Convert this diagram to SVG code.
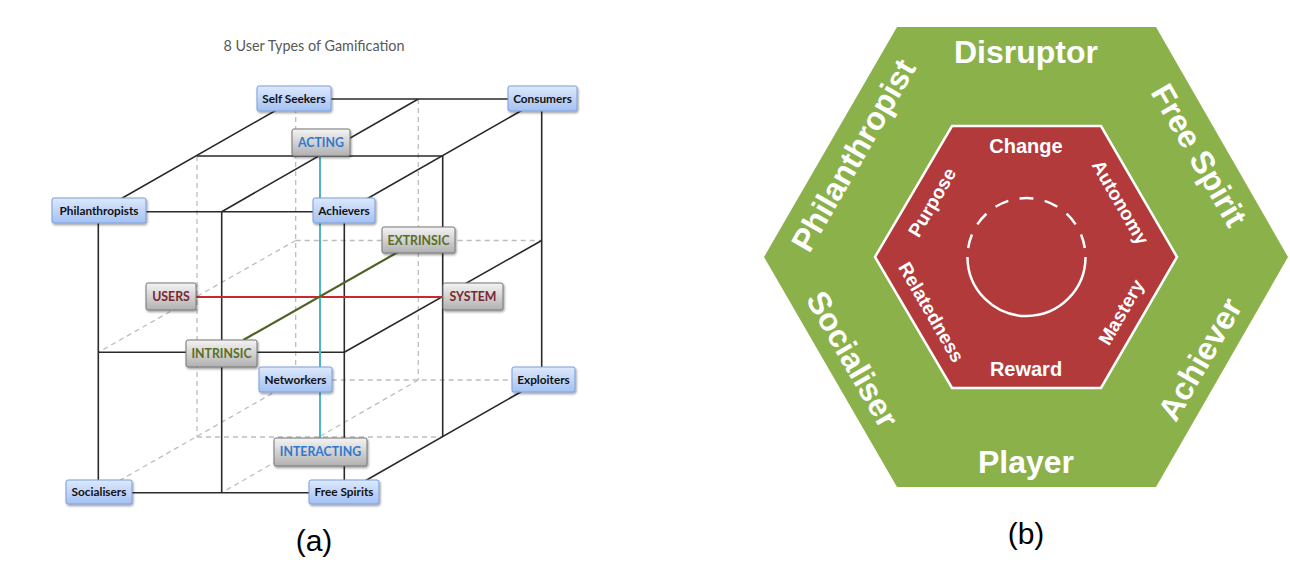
<svg xmlns="http://www.w3.org/2000/svg" width="1290" height="569" viewBox="0 0 1290 569">
<defs>
<linearGradient id="gBlue" x1="0" y1="0" x2="0" y2="1">
<stop offset="0" stop-color="#DDE9FD"/><stop offset="1" stop-color="#A4C1F3"/>
</linearGradient>
<linearGradient id="gGray" x1="0" y1="0" x2="0" y2="1">
<stop offset="0" stop-color="#F4F4F4"/><stop offset="1" stop-color="#B0B0B0"/>
</linearGradient>
<filter id="sh" x="-10%" y="-20%" width="130%" height="160%">
<feDropShadow dx="1" dy="1.5" stdDeviation="0.9" flood-color="#000" flood-opacity="0.4"/>
</filter>
<style>
.ln{stroke:#2a2a2a;stroke-width:1.6;fill:none}
.dash{stroke:#bdbdbd;stroke-width:1.3;fill:none;stroke-dasharray:5 4}
.bn{fill:url(#gBlue);stroke:#7C9FD9;stroke-width:1;filter:url(#sh)}
.gn{fill:url(#gGray);stroke:#777;stroke-width:1;filter:url(#sh)}
.bt{font-family:Lato,"Liberation Sans",sans-serif;font-weight:bold;font-size:11.8px;fill:#111;text-anchor:middle}
.gt{font-family:Lato,"Liberation Sans",sans-serif;font-weight:bold;font-size:12.3px;text-anchor:middle}
.hx{font-family:"Liberation Sans",Arial,sans-serif;font-weight:bold;fill:#fff;text-anchor:middle}
.outer{font-size:32px}
.inner{font-size:19px}
.cap{font-family:"Liberation Sans",Arial,sans-serif;font-size:30px;fill:#000;text-anchor:middle}
</style>
</defs>
<rect width="1290" height="569" fill="#fff"/>

<text x="314" y="50.7" style="font-family:Lato,'Liberation Sans',sans-serif;font-size:14.4px;fill:#595959" text-anchor="middle">8 User Types of Gamification</text>

<g id="connectors">
<!-- hidden (dashed) edges -->
<path class="dash" d="M295.7,99 V380 M418.3,99 V380 M295.7,240.5 H541.7 M295.7,380 H541.7"/>
<path class="dash" d="M197,156 V437 M197,437 H442.7"/>
<path class="dash" d="M295.7,240.5 L98.3,352.3 M295.7,380 L98.3,492.7 M418.3,380 L221.7,492.7"/>
<!-- visible edges -->
<path class="ln" d="M295.7,99 H541.7 M541.7,99 V380"/>
<path class="ln" d="M197,156 H442.7 M442.7,156 V437"/>
<path class="ln" d="M98.3,211.7 H344.3 M98.3,211.7 V492.7 M221.7,211.7 V492.7 M344.3,211.7 V492.7 M98.3,492.7 H344.3 M98.3,352.3 H344.3"/>
<path class="ln" d="M295.7,99 L98.3,211.7 M418.3,99 L221.7,211.7 M541.7,99 L344.3,211.7 M541.7,240.5 L344.3,352.3 M541.7,380 L344.3,492.7"/>
<!-- axes -->
<path d="M196,297 H443" stroke="#C8282E" stroke-width="2" fill="none"/>
<path d="M320,156 V438" stroke="#4DB6C6" stroke-width="2" fill="none"/>
<path d="M243.3,340 L418.3,240.5" stroke="#4E6328" stroke-width="2.2" fill="none"/>
</g>

<g id="nodes">
<g id="self-seekers"><rect class="bn" x="257" y="86" width="74" height="25" rx="2"/><text class="bt" x="294" y="102.5">Self Seekers</text></g>
<g id="consumers"><rect class="bn" x="508" y="86" width="69" height="25" rx="2"/><text class="bt" x="542.5" y="102.5">Consumers</text></g>
<g id="philanthropists"><rect class="bn" x="52" y="198" width="94" height="25" rx="2"/><text class="bt" x="99" y="214.5">Philanthropists</text></g>
<g id="achievers"><rect class="bn" x="313" y="198" width="62" height="25" rx="2"/><text class="bt" x="344" y="214.5">Achievers</text></g>
<g id="networkers"><rect class="bn" x="259" y="367" width="73" height="25" rx="2"/><text class="bt" x="295.5" y="383.5">Networkers</text></g>
<g id="exploiters"><rect class="bn" x="512" y="367" width="63" height="25" rx="2"/><text class="bt" x="543.5" y="383.5">Exploiters</text></g>
<g id="socialisers"><rect class="bn" x="66" y="480" width="66" height="24" rx="2"/><text class="bt" x="99" y="496.2">Socialisers</text></g>
<g id="free-spirits"><rect class="bn" x="309" y="480" width="70" height="24" rx="2"/><text class="bt" x="344" y="496.2">Free Spirits</text></g>

<g id="acting"><rect class="gn" x="292" y="129" width="58" height="27" rx="2"/><text class="gt" x="321" y="147" fill="#2F78CC">ACTING</text></g>
<g id="extrinsic"><rect class="gn" x="382" y="227" width="73" height="26" rx="2"/><text class="gt" x="418.5" y="244.5" fill="#5A6E26">EXTRINSIC</text></g>
<g id="users"><rect class="gn" x="146" y="283" width="50" height="27" rx="2"/><text class="gt" x="171" y="301" fill="#7A2733">USERS</text></g>
<g id="system"><rect class="gn" x="443" y="283" width="60" height="27" rx="2"/><text class="gt" x="473" y="301" fill="#7A2733">SYSTEM</text></g>
<g id="intrinsic"><rect class="gn" x="186" y="340" width="71" height="27" rx="2"/><text class="gt" x="221.5" y="358" fill="#5A6E26">INTRINSIC</text></g>
<g id="interacting"><rect class="gn" x="274" y="438" width="93" height="28" rx="2"/><text class="gt" x="320.5" y="456.3" fill="#2F78CC">INTERACTING</text></g>
</g>

<text class="cap" x="314" y="551">(a)</text>

<g id="hexagon">
<polygon points="897,27 1156,27 1288,257 1156,487 897,487 764,257" fill="#8BB14B"/>
<polygon points="952,126 1101,126 1177,257 1101,388 952,388 875,257" fill="#B23A3B" stroke="#fff" stroke-width="2.5"/>
<path d="M967.5,257 A59,59 0 0 1 1085.5,257" fill="none" stroke="#fff" stroke-width="2.5" stroke-dasharray="14 11.5" stroke-dashoffset="16.5"/>
<path d="M967.5,257 A59,59 0 0 0 1085.5,257" fill="none" stroke="#fff" stroke-width="2.5"/>

<text class="hx outer" x="1026" y="63">Disruptor</text>
<text class="hx outer" x="1026" y="473">Player</text>
<text class="hx outer" transform="translate(853,155) rotate(-60)" x="0" y="11.5">Philanthropist</text>
<text class="hx outer" transform="translate(1199.5,155) rotate(60)" x="0" y="11.5">Free Spirit</text>
<text class="hx outer" transform="translate(853,359) rotate(60)" x="0" y="11.5">Socialiser</text>
<text class="hx outer" transform="translate(1199.5,359) rotate(-60)" x="0" y="11.5">Achiever</text>

<text class="hx" style="font-size:20px" x="1026" y="153">Change</text>
<text class="hx" style="font-size:20px" x="1026" y="376">Reward</text>
<text class="hx inner" transform="translate(931.7,202) rotate(-60)" x="0" y="7">Purpose</text>
<text class="hx inner" transform="translate(1120.8,202) rotate(60)" x="0" y="7">Autonomy</text>
<text class="hx inner" transform="translate(931.7,312) rotate(60)" x="0" y="7">Relatedness</text>
<text class="hx inner" transform="translate(1120.8,312) rotate(-60)" x="0" y="7">Mastery</text>
</g>

<text class="cap" x="1026" y="544">(b)</text>
</svg>
